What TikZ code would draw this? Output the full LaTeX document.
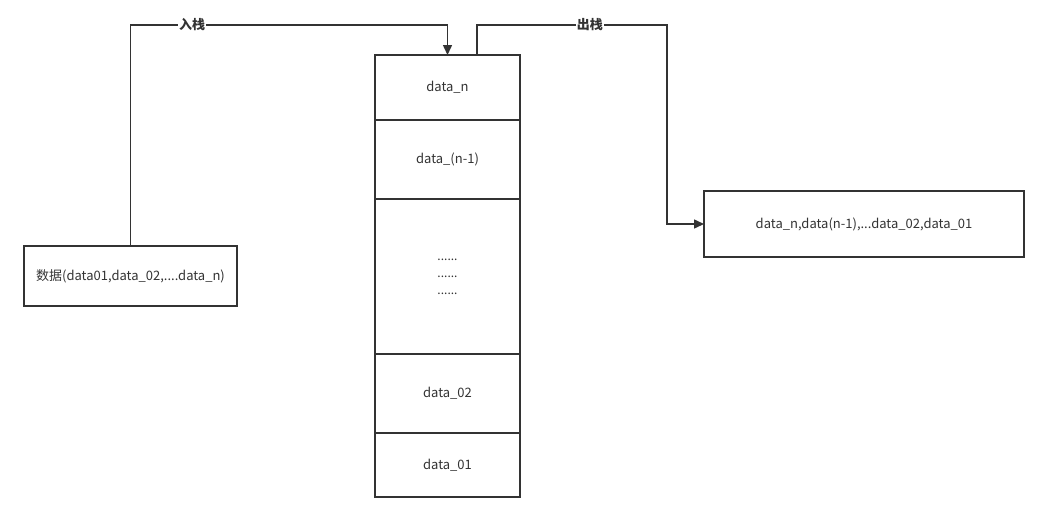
\documentclass[tikz,border=0pt]{standalone}
\usepackage{fontspec}
\setmainfont{Noto Sans CJK SC}
\usetikzlibrary{arrows.meta, positioning}

\begin{document}
\begin{tikzpicture}[
    x=1pt, y=-1pt,
    font=\fontsize{13}{14}\selectfont,
    cell/.style={draw=black!80, line width=1.5pt, text=black!80,
                 minimum width=145pt, outer sep=0pt, inner sep=0pt, align=center},
    box/.style={draw=black!80, line width=1.5pt, text=black!80, outer sep=0pt},
    tag/.style={fill=white, inner sep=1pt, text=black!80, font=\fontsize{13}{14}\selectfont\bfseries},
    arr/.style={-{Triangle[length=10pt, width=9pt]}, draw=black!80, line width=1.5pt}
  ]
    \useasboundingbox (0,0) rectangle (1049,522);

    % the stack
    \node[cell, minimum height=65pt, anchor=north west] (top) at (375,55) {data\_n};
    \node[cell, minimum height=79pt, below=0pt of top] (second) {data\_(n-1)};
    \node[cell, minimum height=155pt, below=0pt of second, font=\fontsize{12}{17}\selectfont] (dots)
      {......\\......\\......};
    \node[cell, minimum height=79pt, below=0pt of dots] (d02) {data\_02};
    \node[cell, minimum height=64pt, below=0pt of d02] (d01) {data\_01};

    \node[box, minimum width=213pt, minimum height=60pt] (input) at (130.5,276)
      {数据(data01,data\_02,....data\_n)};
    \node[box, minimum width=320pt, minimum height=66pt] (output) at (864,224)
      {data\_n,data(n-1),...data\_02,data\_01};

    \draw[arr] (input.north) -- ++(0,-221) -| (top.north)
      node[tag, pos=0.097] {入栈};
    \draw[arr] ([xshift=29.5pt]top.north) -- ++(0,-30) -| ([xshift=-37pt]output.west)
      node[tag, pos=0.297] {出栈} -- (output.west);
  \end{tikzpicture}
\end{document}
